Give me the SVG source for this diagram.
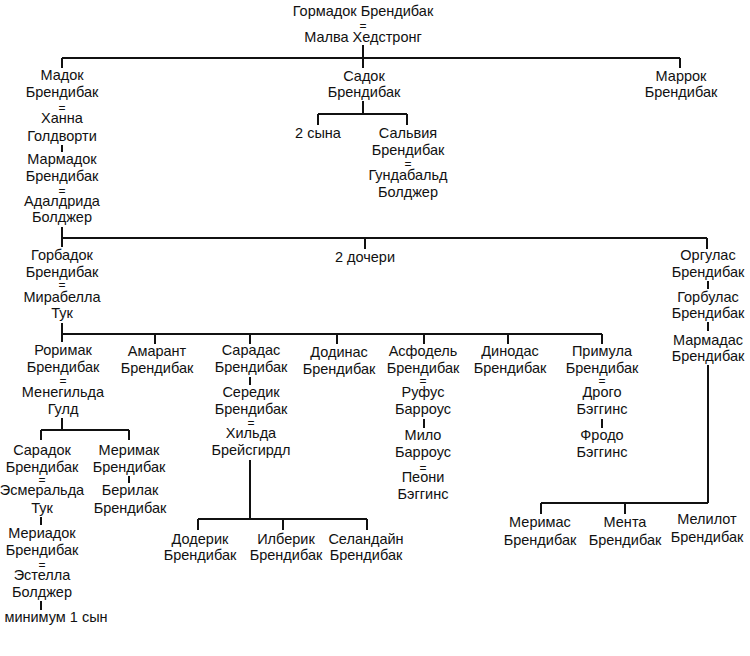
<svg xmlns="http://www.w3.org/2000/svg" width="750" height="656" viewBox="0 0 750 656">
<style>
text{font-family:"Liberation Sans",Arial,sans-serif;font-size:14.5px;fill:#111;text-anchor:middle}
text.eq{font-size:12px}
.c path{stroke:#111;stroke-width:2;fill:none}
</style>
<rect width="750" height="656" fill="#fff"/>
<g class="c" id="connectors">
<path d="M363,45V58M62,58H680M62,58V68M363,58V68M680,58V68"/>
<path d="M363,101V114M318,114H407M318,114V125M407,114V125"/>
<path d="M62,145V152"/>
<path d="M62,227V247M62,238H707M365,238V249M707,238V249"/>
<path d="M708,281V289M708,322V331M708,365V503M541,503H708M541,503V514M625,503V514"/>
<path d="M62,323V342M62,334H602M155,334V344M250,334V344M337,334V344M424,334V344M508,334V344M602,334V344"/>
<path d="M62,418V430M41,430H129M41,430V440M129,430V440"/>
<path d="M41,517V525M41,601V610M129,476V483"/>
<path d="M250,377V385M250,460V519M198,519H367M198,519V530M283,519V530M367,519V530"/>
<path d="M424,419V428M602,419V428"/>
</g>
<g id="gormadok"><text x="363" y="16">Гормадок Брендибак</text><text class="eq" x="363" y="30">=</text><text x="363" y="42">Малва Хедстронг</text></g>
<g id="madok"><text x="62" y="80">Мадок</text><text x="62" y="97">Брендибак</text><text class="eq" x="62" y="112">=</text><text x="62" y="123">Ханна</text><text x="62" y="141">Голдворти</text></g>
<g id="marmadok"><text x="62" y="164">Мармадок</text><text x="62" y="181">Брендибак</text><text class="eq" x="62" y="195">=</text><text x="62" y="206">Адалдрида</text><text x="62" y="222">Болджер</text></g>
<g id="sadok"><text x="364" y="81">Садок</text><text x="364" y="97">Брендибак</text></g>
<g id="marrok"><text x="681" y="81">Маррок</text><text x="681" y="97">Брендибак</text></g>
<g id="sons2"><text x="318" y="138">2 сына</text></g>
<g id="salviya"><text x="408" y="138">Сальвия</text><text x="408" y="155">Брендибак</text><text class="eq" x="408" y="168">=</text><text x="408" y="180">Гундабальд</text><text x="408" y="197">Болджер</text></g>
<g id="gorbadok"><text x="62" y="260">Горбадок</text><text x="62" y="277">Брендибак</text><text class="eq" x="62" y="289">=</text><text x="62" y="302">Мирабелла</text><text x="62" y="318">Тук</text></g>
<g id="daughters2"><text x="365" y="262">2 дочери</text></g>
<g id="orgulas"><text x="708" y="260">Оргулас</text><text x="708" y="277">Брендибак</text></g>
<g id="gorbulas"><text x="708" y="302">Горбулас</text><text x="708" y="318">Брендибак</text></g>
<g id="marmadas"><text x="708" y="345">Мармадас</text><text x="708" y="361">Брендибак</text></g>
<g id="rorimak"><text x="63" y="355">Роримак</text><text x="63" y="372">Брендибак</text><text class="eq" x="63" y="385">=</text><text x="63" y="397">Менегильда</text><text x="63" y="414">Гулд</text></g>
<g id="amarant"><text x="157" y="356">Амарант</text><text x="157" y="373">Брендибак</text></g>
<g id="saradas"><text x="251" y="355">Сарадас</text><text x="251" y="372">Брендибак</text></g>
<g id="seredik"><text x="251" y="397">Середик</text><text x="251" y="414">Брендибак</text><text class="eq" x="251" y="427">=</text><text x="251" y="438">Хильда</text><text x="251" y="455">Брейсгирдл</text></g>
<g id="dodinas"><text x="339" y="357">Додинас</text><text x="339" y="374">Брендибак</text></g>
<g id="asfodel"><text x="423" y="356">Асфодель</text><text x="423" y="373">Брендибак</text><text class="eq" x="423" y="385">=</text><text x="423" y="397">Руфус</text><text x="423" y="414">Барроус</text></g>
<g id="milo"><text x="423" y="440">Мило</text><text x="423" y="457">Барроус</text><text class="eq" x="423" y="472">=</text><text x="423" y="482">Пеони</text><text x="423" y="499">Бэггинс</text></g>
<g id="dinodas"><text x="510" y="356">Динодас</text><text x="510" y="373">Брендибак</text></g>
<g id="primula"><text x="602" y="356">Примула</text><text x="602" y="373">Брендибак</text><text class="eq" x="602" y="385">=</text><text x="602" y="397">Дрого</text><text x="602" y="414">Бэггинс</text></g>
<g id="frodo"><text x="602" y="440">Фродо</text><text x="602" y="457">Бэггинс</text></g>
<g id="saradok"><text x="42" y="455">Сарадок</text><text x="42" y="472">Брендибак</text><text class="eq" x="42" y="484">=</text><text x="42" y="495">Эсмеральда</text><text x="42" y="513">Тук</text></g>
<g id="meriadok"><text x="42" y="538">Мериадок</text><text x="42" y="555">Брендибак</text><text class="eq" x="42" y="569">=</text><text x="42" y="580">Эстелла</text><text x="42" y="597">Болджер</text></g>
<g id="son1"><text x="56" y="622">минимум 1 сын</text></g>
<g id="merimak"><text x="129" y="455">Меримак</text><text x="129" y="472">Брендибак</text></g>
<g id="berilak"><text x="130" y="495">Берилак</text><text x="130" y="513">Брендибак</text></g>
<g id="doderik"><text x="200" y="544">Додерик</text><text x="200" y="560">Брендибак</text></g>
<g id="ilberik"><text x="286" y="544">Илберик</text><text x="286" y="560">Брендибак</text></g>
<g id="selandain"><text x="366" y="544">Селандайн</text><text x="366" y="560">Брендибак</text></g>
<g id="merimas"><text x="540" y="527">Меримас</text><text x="540" y="545">Брендибак</text></g>
<g id="menta"><text x="625" y="527">Мента</text><text x="625" y="545">Брендибак</text></g>
<g id="melilot"><text x="707" y="524">Мелилот</text><text x="707" y="542">Брендибак</text></g>
</svg>
